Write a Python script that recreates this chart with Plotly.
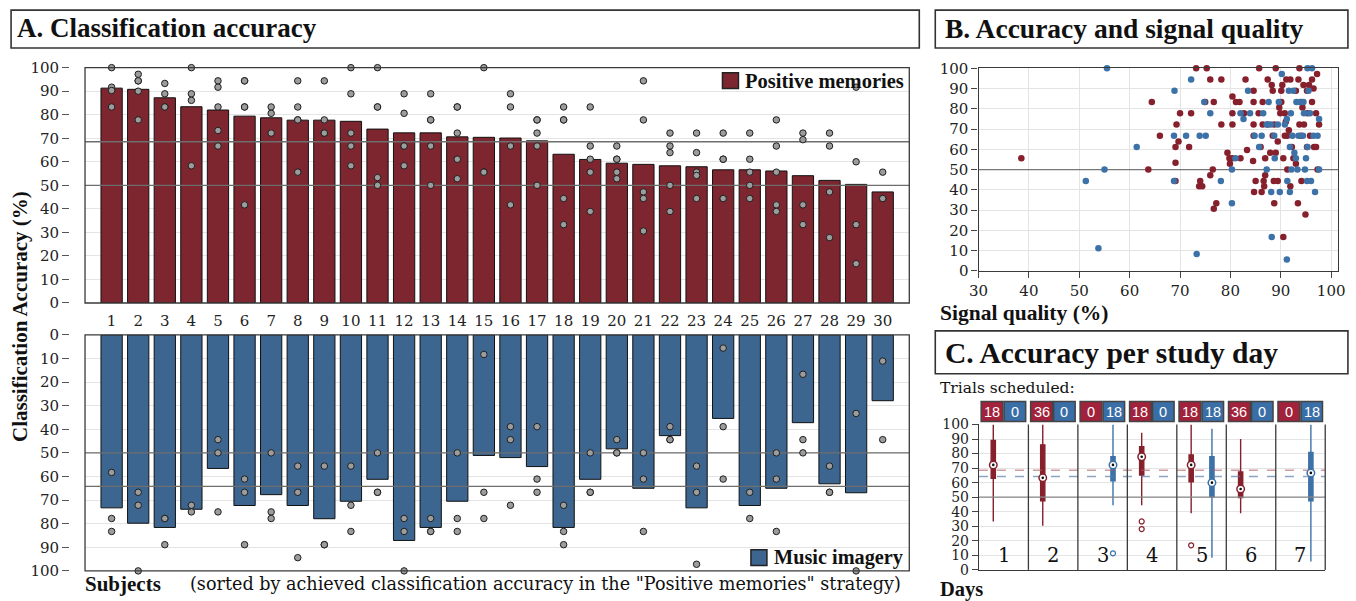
import plotly.graph_objects as go
import numpy as np

W, H = 1356, 601
# the photographed page is framed by an 8px border and resized back to W x H;
# map reference pixel positions to page positions accordingly
SX, SY = W / (W + 16), H / (H + 16)
def px(x): return ((x - 8 * SX) / SX) / W
def py(y): return 1 - ((y - 8 * SY) / SY) / H

# ---------------- Panel A data ----------------
subjects = list(range(1, 31))
pos_acc = [91.3, 90.8, 87.2, 83.4, 82.0, 79.4, 78.7, 77.7, 77.7, 77.2,
           73.9, 72.3, 72.3, 70.6, 70.4, 70.1, 68.9, 63.2, 61.0, 59.4,
           58.9, 58.3, 57.9, 56.6, 56.6, 56.1, 54.1, 52.1, 50.4, 47.2]
mus_acc = [73.3, 79.8, 81.6, 73.9, 56.6, 72.3, 67.7, 72.3, 77.9, 70.5,
           61.2, 87.1, 81.6, 70.5, 51.1, 52.0, 55.8, 81.6, 61.2, 48.3,
           65.0, 42.7, 73.3, 35.4, 72.3, 65.0, 37.2, 63.1, 66.9, 27.9]
pos_sessions = [
    [100, 91.7, 90.3, 83.3], [97.2, 94.4, 94.4, 90, 77.8], [93.3, 88.9, 83.3, 83.3],
    [100, 88.9, 86.1, 58.3], [94.4, 91.7, 83.3, 73.3, 66.7], [94.4, 94.4, 83.3, 83.3, 41.7],
    [83.3, 80.6, 72.2], [94.4, 83.3, 77.8, 77.8, 55.6], [94.4, 77.8, 72.2, 72.2],
    [100, 88.9, 72.2, 66.7, 58.3], [100, 83.3, 83.3, 53.3, 50], [88.9, 80.6, 66.7, 66.7, 58.3],
    [88.9, 77.8, 77.8, 66.7, 50], [83.3, 83.3, 72.2, 61.1, 52.8], [100, 55.6, 55.6],
    [88.9, 83.3, 66.7, 41.7], [77.8, 77.8, 72.2, 66.7, 50], [83.3, 77.8, 77.8, 44.4, 33.3],
    [83.3, 66.7, 61.1, 55.6, 38.9], [66.7, 61.1, 61.1, 55.6, 52.8], [94.4, 77.8, 47.2, 44.4, 30.6],
    [72.2, 66.7, 63.9, 50, 38.9], [72.2, 63.9, 55.6, 54.2, 44.4], [72.2, 61.1, 61.1, 44.4, 44.4],
    [72.2, 61.1, 55.6, 50, 44.4], [77.8, 66.7, 55.6, 41.7, 38.9], [72.2, 69.4, 41.7, 33.3],
    [72.2, 66.7, 47.2, 27.8], [91.7, 60, 33.3, 16.7], [55.6, 44.4, 44.4],
]
mus_sessions = [
    [58.3, 77.8, 83.3], [66.7, 72.2, 100], [77.8, 77.8, 88.9], [72.2, 75], [44.4, 50, 75],
    [61.1, 66.7, 88.9], [50, 75, 77.8], [55.6, 66.7, 94.4], [55.6, 88.9, 88.9], [55.6, 72.2, 83.3],
    [50, 66.7, 66.7], [77.8, 83.3, 100], [77.8, 83.3, 83.3], [50, 77.8, 83.3], [8.3, 66.7, 77.8],
    [38.9, 44.4, 72.2], [38.9, 61.1, 66.7], [72.2, 83.3, 88.9], [50, 66.7, 66.7], [44.4, 50, 50],
    [50, 61.1, 83.3], [38.9, 44.4, 44.4], [55.6, 66.7, 97.2], [5.6, 38.9, 61.1], [66.7, 77.8],
    [50, 61.1, 83.3], [16.7, 44.4, 50], [55.6, 66.7, 66.7], [33.3, 100], [11.1, 44.4],
]

# ---------------- Panel B data ----------------
sq_pos = [38.5, 64.4, 63.7, 66.0, 69.1, 69.3, 69.1, 70.0, 69.1, 69.7,
          72.2, 71.8, 73.2, 75.3, 73.8, 74.4, 74.0, 75.0, 76.0, 76.0,
          76.5, 76.7, 77.2, 76.7, 78.2, 78.2, 79.4, 79.8, 79.9, 80.4,
          80.4, 80.4, 81.1, 81.8, 80.4, 82.0, 82.7, 83.0, 83.3, 84.5,
          84.6, 84.6, 84.6, 84.6, 84.7, 85.0, 85.7, 85.6, 86.0, 86.2,
          86.4, 86.4, 86.6, 86.7, 86.9, 86.9, 87.4, 87.4, 87.9, 88.2,
          88.4, 88.7, 88.4, 89.0, 88.7, 89.0, 89.4, 89.4, 88.6, 89.9,
          89.7, 90.1, 90.1, 90.3, 90.5, 90.8, 90.8, 90.5, 91.0, 91.1,
          91.3, 91.3, 91.6, 91.9, 91.9, 92.2, 92.5, 93.0, 93.0, 93.4,
          93.5, 93.7, 93.7, 94.0, 94.1, 94.3, 94.1, 94.5, 94.6, 94.9,
          95.2, 95.3, 95.2, 95.6, 95.8, 96.2, 96.2, 96.5, 96.6, 97.0,
          97.2, 97.3, 97.6, 97.0]
acc_pos_b = [55.6, 83.3, 50.0, 66.7, 61.1, 72.2, 44.4, 77.8, 53.3, 63.9,
             77.8, 61.1, 100, 100, 41.7, 41.7, 44.4, 83.3, 94.4, 47.2,
             50.0, 83.3, 33.3, 30.6, 94.4, 72.2, 58.3, 55.6, 52.8, 86.1,
             77.8, 72.2, 83.3, 83.3, 55.6, 55.6, 77.8, 94.4, 59.7, 54.2,
             88.9, 83.3, 72.2, 66.7, 38.9, 44.4, 100, 77.8, 61.1, 38.9,
             83.3, 72.2, 44.4, 41.7, 47.2, 55.6, 72.2, 94.4, 58.3, 91.7,
             88.9, 72.2, 66.7, 100, 33.3, 58.3, 63.9, 44.4, 44.4, 77.8,
             80.6, 88.9, 83.3, 91.7, 55.6, 77.8, 66.7, 16.7, 73.6, 94.4,
             66.7, 50.0, 69.4, 41.7, 94.4, 61.1, 55.6, 88.9, 52.8, 33.3,
             94.4, 100, 72.2, 66.7, 83.3, 80.6, 44.4, 91.7, 72.2, 27.8,
             88.9, 77.8, 61.1, 91.7, 66.7, 94.4, 83.3, 90.0, 61.1, 77.8,
             97.2, 50.0, 72.2, 61.1]
sq_mus = [55.5, 51.3, 55.0, 53.8, 61.4, 68.8, 68.9, 68.8, 71.2, 72.2,
          73.3, 73.9, 74.8, 75.1, 76.0, 78.1, 80.3, 80.3, 81.0, 82.0,
          82.6, 83.5, 83.9, 84.8, 85.7, 86.2, 86.5, 87.2, 87.2, 87.6,
          88.0, 88.1, 88.2, 88.7, 88.8, 89.4, 89.6, 89.8, 90.2, 90.8,
          91.2, 91.3, 91.2, 91.6, 91.8, 91.8, 92.0, 92.1, 92.3, 92.5,
          92.7, 93.0, 93.3, 93.1, 93.5, 93.8, 94.4, 94.5, 94.8, 94.6,
          95.0, 95.2, 95.3, 95.3, 95.5, 95.8, 96.0, 96.2, 96.5, 96.8,
          97.3, 97.6, 97.6]
acc_mus_b = [100, 44.4, 50, 11.1, 61.1, 66.7, 88.9, 44.4, 66.7, 94.4,
             8.3, 66.7, 83.3, 66.7, 77.8, 44.4, 50, 33.3, 55.6, 77.8,
             75, 88.9, 77.8, 66.7, 61.1, 66.7, 77.8, 50, 72.2, 83.3,
             72.2, 38.9, 16.7, 66.7, 55.6, 72.2, 83.3, 38.9, 97.2, 72.2,
             75, 44.4, 5.6, 88.9, 61.1, 38.9, 77.8, 50, 66.7, 88.9,
             58.3, 55.6, 50, 83.3, 66.7, 83.3, 66.7, 83.3, 50, 77.8,
             55.6, 44.4, 100, 61.1, 88.9, 77.8, 44.4, 100, 66.7, 38.9,
             66.7, 75, 50]

# ---------------- Panel C data ----------------
days = [1, 2, 3, 4, 5, 6, 7]
trials_pos = [18, 36, 0, 18, 18, 36, 0]
trials_mus = [0, 0, 18, 0, 18, 0, 18]
pos_days = [1, 2, 4, 5, 6]
pos_low = [33.3, 30.4, 44.5, 39.0, 39.0]
pos_q1 = [63.0, 47.5, 65.3, 60.5, 49.8]
pos_med = [72.2, 63.3, 77.8, 72.2, 55.6]
pos_q3 = [89.0, 86.0, 84.7, 79.0, 67.4]
pos_high = [100, 100, 94.3, 100, 90.0]
pos_out_days = [4, 4, 5]
pos_out_vals = [33.3, 28.1, 16.9]
mus_days = [3, 5, 7]
mus_low = [44.5, 8.4, 5.7]
mus_q1 = [61.2, 50.2, 47.5]
mus_med = [72.2, 60.0, 66.7]
mus_q3 = [77.9, 77.9, 80.8]
mus_high = [100, 97.0, 100]
mus_out_days = [3]
mus_out_vals = [11.4]

# ---------------- styles ----------------
RED_BAR = '#7d262f'
BLUE_BAR = '#3c6690'
RED_PT = '#86202c'
BLUE_PT = '#3d72a8'
RED_BADGE = '#a1223a'
BLUE_BADGE = '#3a6ea7'
GRID = '#e4e4e4'
FRAME = '#3a3a3a'
SERIF = 'Liberation Serif'
NUM = 'DejaVu Serif'
OFF = 0.21

fig = go.Figure()

# ---- Panel A top ----
fig.add_trace(go.Bar(x=subjects, y=pos_acc, width=0.8, xaxis='x', yaxis='y',
                     marker=dict(color=RED_BAR, line=dict(color='#111', width=1))))
mean_pos = float(np.mean(pos_acc))
mean_mus = float(np.mean(mus_acc))
for yv in (50, mean_pos):
    fig.add_trace(go.Scatter(x=[0, 31], y=[yv, yv], mode='lines', xaxis='x', yaxis='y',
                             line=dict(color='#6e6e6e', width=1.3)))
fig.add_trace(go.Scatter(
    x=[s for s, vals in zip(subjects, pos_sessions) for _ in vals],
    y=[v for vals in pos_sessions for v in vals],
    mode='markers', xaxis='x', yaxis='y', cliponaxis=False,
    marker=dict(size=6.5, color='#9c9c9c', line=dict(color='#1e1e1e', width=1))))

# ---- Panel A bottom ----
fig.add_trace(go.Bar(x=subjects, y=mus_acc, width=0.8, xaxis='x2', yaxis='y2',
                     marker=dict(color=BLUE_BAR, line=dict(color='#111', width=1))))
for yv in (50, mean_mus):
    fig.add_trace(go.Scatter(x=[0, 31], y=[yv, yv], mode='lines', xaxis='x2', yaxis='y2',
                             line=dict(color='#6e6e6e', width=1.3)))
fig.add_trace(go.Scatter(
    x=[s for s, vals in zip(subjects, mus_sessions) for _ in vals],
    y=[v for vals in mus_sessions for v in vals],
    mode='markers', xaxis='x2', yaxis='y2', cliponaxis=False,
    marker=dict(size=6.5, color='#9c9c9c', line=dict(color='#1e1e1e', width=1))))

# ---- Panel B ----
fig.add_trace(go.Scatter(x=[30, 101.4], y=[50, 50], mode='lines', xaxis='x3', yaxis='y3',
                         line=dict(color='#777', width=1.2)))
fig.add_trace(go.Scatter(x=sq_pos, y=acc_pos_b, mode='markers', xaxis='x3', yaxis='y3',
                         cliponaxis=False, marker=dict(size=6.5, color=RED_PT)))
fig.add_trace(go.Scatter(x=sq_mus, y=acc_mus_b, mode='markers', xaxis='x3', yaxis='y3',
                         cliponaxis=False, marker=dict(size=6.5, color=BLUE_PT)))

# ---- Panel C ----
fig.add_trace(go.Scatter(x=[0.5, 7.5], y=[50, 50], mode='lines', xaxis='x4', yaxis='y4',
                         line=dict(color='#888', width=1.2)))
fig.add_trace(go.Scatter(x=[0.5, 7.5], y=[mean_pos, mean_pos], mode='lines', xaxis='x4', yaxis='y4',
                         line=dict(color='rgba(175,90,100,0.6)', width=1.5, dash='dash')))
fig.add_trace(go.Scatter(x=[0.5, 7.5], y=[mean_mus, mean_mus], mode='lines', xaxis='x4', yaxis='y4',
                         line=dict(color='rgba(90,125,165,0.7)', width=1.5, dash='dash')))

for dlist, lo, q1, md, q3, hi, col in (
        (pos_days, pos_low, pos_q1, pos_med, pos_q3, pos_high, RED_PT),
        (mus_days, mus_low, mus_q1, mus_med, mus_q3, mus_high, BLUE_PT)):
    sign = -1 if col == RED_PT else 1
    xs = [d + sign * OFF for d in dlist]
    fig.add_trace(go.Box(x=xs, q1=q1, median=md, q3=q3, lowerfence=lo, upperfence=hi,
                         xaxis='x4', yaxis='y4', width=0.085, whiskerwidth=0,
                         fillcolor=col, line=dict(color=col, width=1.4), boxpoints=False))
    fig.add_trace(go.Scatter(x=xs, y=md, mode='markers', xaxis='x4', yaxis='y4',
                             marker=dict(size=7.5, color='white', line=dict(color=col, width=1.5))))
    fig.add_trace(go.Scatter(x=xs, y=md, mode='markers', xaxis='x4', yaxis='y4',
                             marker=dict(size=2.6, color='#111')))

fig.add_trace(go.Scatter(x=[d - OFF for d in pos_out_days], y=pos_out_vals, mode='markers',
                         xaxis='x4', yaxis='y4',
                         marker=dict(symbol='circle-open', size=5, color=RED_PT, line=dict(width=1.2))))
fig.add_trace(go.Scatter(x=[d + OFF for d in mus_out_days], y=mus_out_vals, mode='markers',
                         xaxis='x4', yaxis='y4',
                         marker=dict(symbol='circle-open', size=5, color=BLUE_PT, line=dict(width=1.2))))

# ---------------- axes ----------------
num_font = dict(family=NUM, size=15, color='#222')
yA = dict(range=[0, 100], dtick=10, anchor='free', position=px(67), ticks='outside', ticklen=7,
          tickcolor='#555', showline=False, showgrid=True, gridcolor=GRID, zeroline=False,
          tickfont=num_font)
xA = dict(domain=[px(83), px(908)], range=[0, 31], showgrid=False, zeroline=False, showline=False)

layout = dict(
    width=W, height=H, margin=dict(l=0, r=0, t=0, b=0), autosize=False,
    paper_bgcolor='white', plot_bgcolor='white', showlegend=False,
    xaxis=dict(xA, anchor='y', tickvals=subjects, ticks='outside', ticklen=4,
               tickcolor='rgba(0,0,0,0)', tickfont=num_font),
    yaxis=dict(yA, domain=[py(303), py(66.7)]),
    xaxis2=dict(xA, anchor='y2', showticklabels=False),
    yaxis2=dict(yA, domain=[py(572), py(335)], range=[100, 0]),
    xaxis3=dict(domain=[px(977.3), px(1337.3)], range=[30, 101.4], dtick=10, anchor='y3',
                ticks='outside', ticklen=6, tickcolor='#444', showline=True, mirror=True,
                linecolor=FRAME, linewidth=1.2, showgrid=True, gridcolor=GRID, zeroline=False,
                tickfont=num_font),
    yaxis3=dict(domain=[py(270.7), py(67.3)], range=[0, 100], dtick=10, anchor='x3',
                ticks='outside', ticklen=6, tickcolor='#444', showline=True, mirror=True,
                linecolor=FRAME, linewidth=1.2, showgrid=True, gridcolor=GRID, zeroline=False,
                tickfont=num_font),
    xaxis4=dict(domain=[px(977.7), px(1324.3)], range=[0.5, 7.5], anchor='y4',
                showticklabels=False, ticks='', showline=True, linecolor=FRAME, linewidth=1.2,
                showgrid=False, zeroline=False),
    yaxis4=dict(domain=[py(571), py(425)], range=[0, 100], dtick=10, anchor='x4',
                ticks='outside', ticklen=6, tickcolor='#444', showline=True, linecolor=FRAME,
                linewidth=1.2, showgrid=True, gridcolor=GRID, zeroline=False,
                tickfont=dict(family=NUM, size=14, color='#222')),
)
fig.update_layout(**layout)

shapes = []
annots = []
for xr, yr in (('x domain', 'y domain'), ('x2 domain', 'y2 domain')):
    shapes.append(dict(type='rect', xref=xr, yref=yr, x0=0, x1=1, y0=0, y1=1,
                       line=dict(color=FRAME, width=1.3), layer='above'))
shapes.append(dict(type='line', xref='x4 domain', yref='y4 domain', x0=1, x1=1, y0=0, y1=1,
                   line=dict(color=FRAME, width=1.3)))
for d in days[:-1]:
    shapes.append(dict(type='line', xref='x4', yref='y4 domain', x0=d + 0.5, x1=d + 0.5, y0=0, y1=1,
                       line=dict(color=FRAME, width=1.3)))

def title_box(x0, x1, y0, y1, text, size):
    shapes.append(dict(type='rect', xref='paper', yref='paper', x0=max(px(x0), 0.0008),
                       x1=min(px(x1), 0.9992), y0=py(y1), y1=min(py(y0), 0.998),
                       line=dict(color='#333', width=1.6)))
    annots.append(dict(xref='paper', yref='paper', x=px(x0 + 8), y=py((y0 + y1) / 2 + 1),
                       xanchor='left', yanchor='middle', showarrow=False, text='<b>%s</b>' % text,
                       font=dict(family=SERIF, size=size, color='#111')))
title_box(5, 918, 5, 47, 'A. Classification accuracy', 27)
title_box(934, 1350, 5, 47, 'B. Accuracy and signal quality', 27.5)
title_box(934, 1350, 331, 374, 'C. Accuracy per study day', 29.5)

def label(x, y, text, size=19, bold=True, xanchor='left', angle=0, family=SERIF, color='#111'):
    annots.append(dict(xref='paper', yref='paper', x=px(x), y=py(y), xanchor=xanchor,
                       yanchor='middle', showarrow=False, textangle=angle,
                       text=('<b>%s</b>' % text) if bold else text,
                       font=dict(family=family, size=size, color=color)))

label(18, 317, 'Classification Accuracy (%)', size=21, xanchor='center', angle=-90)
label(81, 585, 'Subjects', size=21)
label(186, 585, '(sorted by achieved classification accuracy in the "Positive memories" strategy)',
      size=17.6, bold=False, family=NUM)
label(937, 313, 'Signal quality (%)', size=21.5)
label(937, 388, 'Trials scheduled:', size=15.5, bold=False, family=NUM)
label(937, 591, 'Days', size=20.5)

shapes.append(dict(type='rect', xref='paper', yref='paper', x0=px(721), x1=px(737),
                   y0=py(87.7), y1=py(71.7), fillcolor=RED_BAR, line=dict(color='#222', width=1.5)))
label(742, 80, 'Positive memories', size=20.5)
shapes.append(dict(type='rect', xref='paper', yref='paper', x0=px(749.5), x1=px(765.5),
                   y0=py(566.7), y1=py(550.7), fillcolor=BLUE_BAR, line=dict(color='#222', width=1.5)))
label(771, 559, 'Music imagery', size=20.3)

for d, tp, tm in zip(days, trials_pos, trials_mus):
    for (a, b, col, val) in ((d - 0.455, d - 0.015, RED_BADGE, tp), (d + 0.01, d + 0.445, BLUE_BADGE, tm)):
        shapes.append(dict(type='rect', xref='x4', yref='paper', x0=a, x1=b, y0=py(422), y1=py(402),
                           fillcolor=col, line=dict(color='#444', width=1.5)))
        annots.append(dict(xref='x4', yref='paper', x=(a + b) / 2, y=py(412.5), showarrow=False,
                           xanchor='center', yanchor='middle', text=str(val),
                           font=dict(family='Liberation Sans', size=14.5, color='white')))
    annots.append(dict(xref='x4', yref='paper', x=d, y=py(557), showarrow=False,
                       xanchor='center', yanchor='middle', text=str(d),
                       font=dict(family=NUM, size=19.5, color='#111')))

fig.update_layout(shapes=shapes, annotations=annots)
post = ("var gd=document.getElementById('{plot_id}');"
        "gd.style.position='fixed';gd.style.left='0px';gd.style.top='0px';"
        "document.body.style.margin='0';document.body.style.padding='0';"
        "document.documentElement.style.overflow='hidden';document.body.style.overflow='hidden';")
fig.write_html('out.html', config={'displayModeBar': False}, post_script=post)
